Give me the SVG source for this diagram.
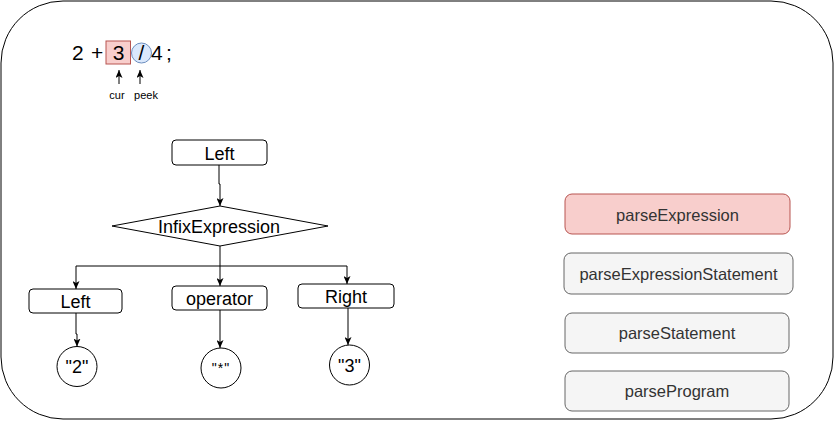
<svg xmlns="http://www.w3.org/2000/svg" width="835" height="421" viewBox="0 0 835 421">
<style>
  text { font-family: "Liberation Sans", Arial, Helvetica, sans-serif; fill: #000; }
  .box { fill: #ffffff; stroke: #000; stroke-width: 1; }
  .lbl { font-size: 18px; text-anchor: middle; }
  .stack { fill: #f5f5f5; stroke: #666666; stroke-width: 1; }
  .stacktxt { font-size: 16.5px; text-anchor: middle; fill: #333333; }
  .conn { fill: none; stroke: #000; stroke-width: 1; marker-end: url(#arr); }
</style>
<defs>
  <marker id="arr" viewBox="0 0 8 7" refX="8" refY="3.5" markerWidth="8" markerHeight="7" markerUnits="userSpaceOnUse" orient="auto">
    <path d="M0,0 L8,3.5 L0,7 L2,3.5 z" fill="#000"/>
  </marker>
</defs>
<rect id="frame" x="1" y="1" width="832" height="418" rx="62" ry="62" fill="#ffffff" stroke="#000" stroke-width="1"/>

<g id="expr">
  <text x="72" y="60" font-size="21">2</text>
  <text x="91" y="60" font-size="21">+</text>
  <g id="cur-token">
    <rect x="106" y="41" width="24.5" height="23" fill="#f8cecc" stroke="#b85450" stroke-width="1"/>
    <text x="118.5" y="60" font-size="21" text-anchor="middle">3</text>
  </g>
  <g id="peek-token">
    <circle cx="141.5" cy="53" r="10" fill="#dae8fc" stroke="#6c8ebf" stroke-width="1"/>
    <text x="141.5" y="60" font-size="21" text-anchor="middle">/</text>
  </g>
  <text x="151" y="60" font-size="21">4</text>
  <text x="166" y="60" font-size="21">;</text>
</g>

<g id="cur-label"><text x="117" y="99" font-size="11" text-anchor="middle">cur</text></g>
<g id="peek-label"><text x="146" y="99" font-size="11" text-anchor="middle">peek</text></g>

<g id="node-left-top">
  <rect class="box" x="172" y="140" width="95" height="25" rx="4"/>
  <text class="lbl" x="219.5" y="160">Left</text>
</g>
<g id="node-infix">
  <polygon class="box" points="220,206 328,226 220,246 112,226"/>
  <text class="lbl" x="219" y="233">InfixExpression</text>
</g>
<g id="node-left">
  <rect class="box" x="29" y="289" width="93" height="24" rx="4"/>
  <text class="lbl" x="75.5" y="308">Left</text>
</g>
<g id="node-operator">
  <rect class="box" x="172" y="286" width="95" height="24" rx="4"/>
  <text class="lbl" x="219.5" y="305">operator</text>
</g>
<g id="node-right">
  <rect class="box" x="298" y="284" width="96" height="24" rx="4"/>
  <text class="lbl" x="346" y="303">Right</text>
</g>
<g id="node-2">
  <circle class="box" cx="77" cy="366.5" r="20"/>
  <text class="lbl" x="77" y="373">"2"</text>
</g>
<g id="node-star">
  <circle class="box" cx="221" cy="368" r="20"/>
  <text x="221" y="373" font-size="14" text-anchor="middle" letter-spacing="1">"*"</text>
</g>
<g id="node-3">
  <circle class="box" cx="349.5" cy="365" r="20"/>
  <text class="lbl" x="349.5" y="372">"3"</text>
</g>

<g id="stack-parseExpression">
  <rect x="565" y="194" width="225" height="40" rx="7" fill="#f8cecc" stroke="#b85450" stroke-width="1"/>
  <text class="stacktxt" x="677.5" y="221">parseExpression</text>
</g>
<g id="stack-parseExpressionStatement">
  <rect class="stack" x="564" y="253" width="229" height="41" rx="7"/>
  <text class="stacktxt" x="678.5" y="280">parseExpressionStatement</text>
</g>
<g id="stack-parseStatement">
  <rect class="stack" x="565" y="313" width="224" height="40" rx="7"/>
  <text class="stacktxt" x="677" y="339">parseStatement</text>
</g>
<g id="stack-parseProgram">
  <rect class="stack" x="565" y="371" width="224" height="40" rx="7"/>
  <text class="stacktxt" x="677" y="397">parseProgram</text>
</g>

<g id="connectors">
  <path class="conn" d="M119,84 V70"/>
  <path class="conn" d="M140,84 V70"/>
  <path class="conn" d="M219,165 V184 H220 V206"/>
  <path class="conn" d="M220,246 V286"/>
  <path class="conn" d="M220,266 H76 V289"/>
  <path class="conn" d="M220,266 H347 V284"/>
  <path class="conn" d="M76,313 V334 H77 V346.5"/>
  <path class="conn" d="M220,310 V348"/>
  <path class="conn" d="M348,308 V345"/>
</g>
</svg>
